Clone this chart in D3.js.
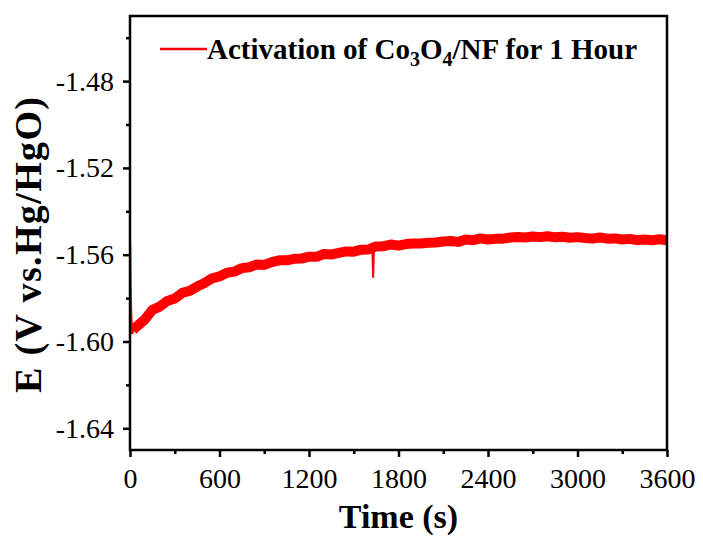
<!DOCTYPE html>
<html>
<head>
<meta charset="utf-8">
<script src="https://cdn.jsdelivr.net/npm/d3@7"></script>
<style>
  body { margin: 0; background: #fff; }
  text { font-family: "Liberation Serif", "Times New Roman", serif; }
</style>
</head>
<body>
<div id="chart"></div>
<script>
// chronopotentiometry trace (s, V vs Hg/HgO)
var timeS = [20, 50, 100, 150, 200, 250, 300, 350, 400, 450, 500, 550, 600, 650, 700, 750,
  800, 850, 900, 950, 1000, 1050, 1100, 1150, 1200, 1250, 1300, 1350, 1400, 1450, 1500, 1550,
  1600, 1650, 1700, 1750, 1800, 1850, 1900, 1950, 2000, 2050, 2100, 2150, 2200, 2250, 2300,
  2350, 2400, 2450, 2500, 2550, 2600, 2650, 2700, 2750, 2800, 2850, 2900, 2950, 3000, 3050,
  3100, 3150, 3200, 3250, 3300, 3350, 3400, 3450, 3500, 3550, 3600];
var potentialV = [-1.5947, -1.5928, -1.5898, -1.5854, -1.5839, -1.5813, -1.5802, -1.5776,
  -1.5767, -1.5747, -1.5730, -1.5709, -1.5700, -1.5683, -1.5678, -1.5662, -1.5658, -1.5645,
  -1.5647, -1.5634, -1.5626, -1.5626, -1.5619, -1.5618, -1.5609, -1.5610, -1.5597, -1.5599,
  -1.5592, -1.5585, -1.5586, -1.5577, -1.5576, -1.5562, -1.5561, -1.5553, -1.5558, -1.5551,
  -1.5548, -1.5548, -1.5545, -1.5544, -1.5539, -1.5537, -1.5541, -1.5530, -1.5533, -1.5525,
  -1.5530, -1.5527, -1.5526, -1.5521, -1.5518, -1.5521, -1.5516, -1.5519, -1.5515, -1.5520,
  -1.5517, -1.5522, -1.5519, -1.5523, -1.5526, -1.5521, -1.5526, -1.5525, -1.5530, -1.5527,
  -1.5533, -1.5530, -1.5533, -1.5529, -1.5533];
// the sharp drop right after switching on, and the glitch near 1630 s
var startTimeS = [0, 3, 8, 15, 20];
var startV = [-1.5555, -1.5760, -1.5890, -1.5965, -1.5947];
var glitchTimeS = [1625, 1630, 1635];
var glitchV = [-1.5575, -1.5706, -1.5572];

var xTicks = [0, 600, 1200, 1800, 2400, 3000, 3600];
var xMinorTicks = [300, 900, 1500, 2100, 2700, 3300];
var yTicks = [-1.64, -1.60, -1.56, -1.52, -1.48];
var yMinorTicks = [-1.62, -1.58, -1.54, -1.50, -1.46];
var legendLabel = 'Activation of Co';

var _width = 703, _height = 536;
// note: "top" is taken by window.top, so the plot box gets its own names
var plotL = 130, plotR = 667, plotT = 16, plotB = 450;
var red = '#ff0000';

var svg = d3.select('#chart').append('svg')
  .attr('width', _width)
  .attr('height', _height);

var x = d3.scaleLinear().domain([0, 3600]).range([plotL, plotR]);
var y = d3.scaleLinear().domain([-1.65, -1.45]).range([plotB, plotT]);

// clip the trace to the frame
svg.append('clipPath').attr('id', 'plot')
  .append('rect')
  .attr('x', plotL).attr('y', plotT)
  .attr('width', plotR - plotL).attr('height', plotB - plotT);

var line = d3.line()
  .x(function(d) { return x(d[0]); })
  .y(function(d) { return y(d[1]); });

var trace = svg.append('g').attr('clip-path', 'url(#plot)');
trace.append('path')
  .datum(d3.zip(startTimeS, startV))
  .attr('d', line)
  .style('fill', 'none').style('stroke', red).style('stroke-width', 2.5);
trace.append('path')
  .datum(d3.zip(glitchTimeS, glitchV))
  .attr('d', line)
  .style('fill', 'none').style('stroke', red).style('stroke-width', 2);
trace.append('path')
  .datum(d3.zip(timeS, potentialV))
  .attr('d', line)
  .style('fill', 'none').style('stroke', red).style('stroke-width', 10)
  .style('stroke-linejoin', 'round');

// axes: major ticks with labels, minor ticks without
function styleAxis(g) {
  g.select('.domain').remove();
  g.selectAll('line').style('stroke', '#000').style('stroke-width', 2.5);
  g.selectAll('text').style('font-size', '28px').style('fill', '#000');
}
svg.append('g')
  .attr('transform', 'translate(0,' + plotB + ')')
  .call(d3.axisBottom(x).tickValues(xTicks).tickSize(7).tickPadding(11)
    .tickFormat(d3.format('d')))
  .call(styleAxis);
svg.append('g')
  .attr('transform', 'translate(0,' + plotB + ')')
  .call(d3.axisBottom(x).tickValues(xMinorTicks).tickSize(4).tickFormat(''))
  .call(styleAxis);
svg.append('g')
  .attr('transform', 'translate(' + plotL + ',0)')
  .call(d3.axisLeft(y).tickValues(yTicks).tickSize(7).tickPadding(9)
    .tickFormat(function(d) { return d.toFixed(2); }))
  .call(styleAxis);
svg.append('g')
  .attr('transform', 'translate(' + plotL + ',0)')
  .call(d3.axisLeft(y).tickValues(yMinorTicks).tickSize(4).tickFormat(''))
  .call(styleAxis);

// frame
svg.append('rect')
  .attr('x', plotL).attr('y', plotT)
  .attr('width', plotR - plotL).attr('height', plotB - plotT)
  .style('fill', 'none').style('stroke', '#000').style('stroke-width', 2.5);

// axis titles
svg.append('text')
  .attr('x', (plotL + plotR) / 2).attr('y', 528)
  .attr('text-anchor', 'middle')
  .style('font-size', '34px').style('font-weight', 'bold')
  .text('Time (s)');
svg.append('text')
  .attr('transform', 'translate(41,245) rotate(-90)')
  .attr('text-anchor', 'middle')
  .attr('textLength', 296).attr('lengthAdjust', 'spacing')
  .style('font-size', '38px').style('font-weight', 'bold')
  .text('E (V vs.Hg/HgO)');

// legend
svg.append('line')
  .attr('x1', 160).attr('x2', 207).attr('y1', 49).attr('y2', 49)
  .style('stroke', red).style('stroke-width', 2.5);
var leg = svg.append('text')
  .attr('x', 207).attr('y', 59)
  .style('font-size', '29px').style('font-weight', 'bold');
leg.append('tspan').text(legendLabel);
leg.append('tspan').attr('dy', 7).style('font-size', '20px').text('3');
leg.append('tspan').attr('dy', -7).text('O');
leg.append('tspan').attr('dy', 7).style('font-size', '20px').text('4');
leg.append('tspan').attr('dy', -7).text('/NF for 1 Hour');
</script>
</body>
</html>
